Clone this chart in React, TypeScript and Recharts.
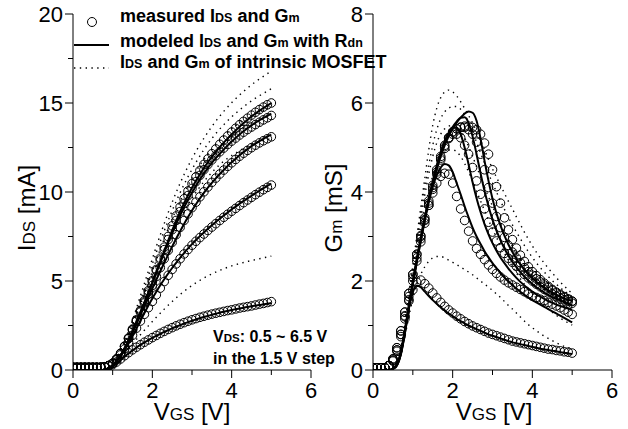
import React from 'react';
import { ComposedChart, Line, Scatter, XAxis, YAxis } from 'recharts';

// Gate voltage grid (V)
const VGS = [
  0, 0.1, 0.2, 0.3, 0.4, 0.5, 0.6, 0.7, 0.8, 0.9,
  1.0, 1.1, 1.2, 1.3, 1.4, 1.5, 1.6, 1.7, 1.8, 1.9,
  2.0, 2.1, 2.2, 2.3, 2.4, 2.5, 2.6, 2.7, 2.8, 2.9,
  3.0, 3.1, 3.2, 3.3, 3.4, 3.5, 3.6, 3.7, 3.8, 3.9,
  4.0, 4.1, 4.2, 4.3, 4.4, 4.5, 4.6, 4.7, 4.8, 4.9,
  5.0,
];

// ---------- IDS [mA] : measured (circles) ----------
const IDS_MEAS_05 = [0.15,0.15,0.15,0.15,0.15,0.15,0.15,0.16,0.18,0.22, 0.3,0.45,0.62,0.8,0.97,1.13,1.28,1.42,1.56,1.69, 1.82,1.94,2.06,2.17,2.28,2.38,2.48,2.57,2.66,2.74, 2.82,2.89,2.96,3.02,3.08,3.14,3.19,3.24,3.29,3.34, 3.38,3.43,3.48,3.52,3.56,3.6,3.65,3.7,3.74,3.79, 3.84];
const IDS_MEAS_20 = [0.15,0.15,0.15,0.15,0.15,0.15,0.15,0.15,0.18,0.25, 0.37,0.57,0.85,1.18,1.55,1.95,2.35,2.75,3.13,3.5, 3.85,4.22,4.6,4.97,5.32,5.65,5.96,6.25,6.52,6.77, 7.01,7.23,7.44,7.64,7.84,8.03,8.22,8.4,8.58,8.75, 8.92,9.08,9.24,9.4,9.55,9.7,9.85,9.99,10.13,10.26, 10.39];
const IDS_MEAS_35 = [0.15,0.15,0.15,0.15,0.15,0.15,0.15,0.15,0.18,0.25, 0.38,0.62,0.93,1.32,1.76,2.24,2.74,3.25,3.77,4.26, 4.75,5.25,5.75,6.25,6.72,7.17,7.6,8.01,8.4,8.77, 9.12,9.43,9.73,10.01,10.28,10.54,10.78,11.01,11.23,11.44, 11.64,11.83,12.01,12.18,12.34,12.49,12.63,12.76,12.88,12.99, 13.1];
const IDS_MEAS_50 = [0.15,0.15,0.15,0.15,0.15,0.15,0.15,0.15,0.18,0.25, 0.38,0.62,0.93,1.33,1.78,2.27,2.78,3.3,3.83,4.38, 4.95,5.58,6.18,6.76,7.33,7.88,8.4,8.9,9.36,9.8, 10.2,10.58,10.93,11.25,11.54,11.8,12.04,12.26,12.47,12.67, 12.86,13.03,13.2,13.36,13.51,13.65,13.79,13.92,14.05,14.17, 14.3];
const IDS_MEAS_65 = [0.15,0.15,0.15,0.15,0.15,0.15,0.15,0.15,0.18,0.25, 0.38,0.62,0.94,1.34,1.8,2.3,2.82,3.35,3.9,4.46, 5.02,5.65,6.28,6.9,7.5,8.1,8.65,9.15,9.62,10.06, 10.47,10.85,11.21,11.55,11.86,12.15,12.42,12.68,12.92,13.15, 13.37,13.58,13.78,13.97,14.15,14.32,14.48,14.63,14.77,14.9, 15.0];

// ---------- IDS [mA] : modeled with Rdn (solid) ----------
const IDS_MOD_05 = [0,0,0,0,0,0,0,0,0.03,0.1, 0.22,0.38,0.56,0.75,0.93,1.1,1.26,1.41,1.55,1.68, 1.8,1.92,2.03,2.14,2.24,2.34,2.43,2.52,2.61,2.69, 2.77,2.84,2.91,2.98,3.04,3.1,3.16,3.22,3.27,3.32, 3.37,3.42,3.46,3.5,3.54,3.58,3.62,3.65,3.69,3.72, 3.76];
const IDS_MOD_20 = [0,0,0,0,0,0,0,0,0.03,0.11, 0.26,0.48,0.77,1.11,1.49,1.9,2.33,2.77,3.2,3.62, 4.02,4.4,4.76,5.1,5.42,5.73,6.02,6.3,6.57,6.83, 7.07,7.3,7.52,7.73,7.93,8.13,8.32,8.5,8.68,8.85, 9.02,9.18,9.34,9.49,9.64,9.79,9.93,10.07,10.21,10.34, 10.47];
const IDS_MOD_35 = [0,0,0,0,0,0,0,0,0.03,0.11, 0.27,0.5,0.81,1.19,1.62,2.09,2.58,3.08,3.58,4.08, 4.58,5.07,5.55,6.02,6.48,6.93,7.37,7.79,8.2,8.59, 8.96,9.31,9.64,9.95,10.24,10.51,10.77,11.01,11.24,11.46, 11.67,11.87,12.06,12.24,12.41,12.57,12.72,12.86,12.99,13.11, 13.22];
const IDS_MOD_50 = [0,0,0,0,0,0,0,0,0.03,0.11, 0.27,0.5,0.82,1.22,1.68,2.18,2.7,3.23,3.77,4.32, 4.88,5.45,6.02,6.59,7.15,7.69,8.2,8.68,9.13,9.56, 9.96,10.34,10.7,11.03,11.34,11.63,11.9,12.15,12.39,12.62, 12.84,13.04,13.23,13.41,13.58,13.74,13.89,14.03,14.16,14.28, 14.4];
const IDS_MOD_65 = [0,0,0,0,0,0,0,0,0.03,0.11, 0.27,0.5,0.82,1.22,1.68,2.18,2.71,3.25,3.8,4.36, 4.93,5.51,6.1,6.69,7.27,7.84,8.38,8.89,9.37,9.82, 10.24,10.63,11.0,11.35,11.67,11.97,12.25,12.52,12.77,13.01, 13.24,13.46,13.67,13.87,14.06,14.24,14.41,14.57,14.72,14.86, 15.0];

// ---------- IDS [mA] : intrinsic MOSFET (dotted) ----------
const IDS_INT_05 = [0,0,0,0,0,0,0,0,0.05,0.15, 0.3,0.5,0.72,0.95,1.2,1.46,1.72,1.98,2.23,2.48, 2.72,2.96,3.19,3.42,3.64,3.85,4.05,4.24,4.42,4.59, 4.75,4.9,5.04,5.17,5.29,5.4,5.5,5.6,5.69,5.77, 5.85,5.92,5.98,6.04,6.1,6.15,6.2,6.25,6.3,6.35, 6.4];
const IDS_INT_20 = [0,0,0,0,0,0,0,0,0.03,0.12, 0.3,0.55,0.88,1.28,1.73,2.23,2.77,3.33,3.9,4.47, 5.03,5.58,6.12,6.64,7.14,7.61,8.06,8.49,8.9,9.28, 9.64,9.98,10.29,10.58,10.85,11.1,11.33,11.54,11.73,11.9, 12.05,12.19,12.32,12.44,12.55,12.65,12.74,12.82,12.89,12.95, 13.0];
const IDS_INT_35 = [0,0,0,0,0,0,0,0,0.04,0.13, 0.32,0.6,0.96,1.4,1.9,2.45,3.04,3.66,4.29,4.92, 5.55,6.17,6.78,7.37,7.94,8.48,9.0,9.49,9.95,10.38, 10.78,11.16,11.51,11.84,12.14,12.4,12.65,12.89,13.12,13.34, 13.55,13.72,13.88,14.03,14.17,14.3,14.41,14.51,14.6,14.68, 14.75];
const IDS_INT_50 = [0,0,0,0,0,0,0,0,0.03,0.13, 0.33,0.62,1.0,1.46,1.98,2.56,3.2,3.88,4.58,5.28, 5.95,6.6,7.22,7.82,8.4,8.95,9.47,9.96,10.42,10.86, 11.27,11.66,12.03,12.38,12.7,13.0,13.28,13.54,13.78,14.01, 14.22,14.42,14.61,14.79,14.96,15.12,15.27,15.41,15.54,15.67, 15.8];
const IDS_INT_65 = [0,0,0,0,0,0,0,0,0.04,0.14, 0.36,0.68,1.1,1.6,2.17,2.8,3.47,4.16,4.86,5.56, 6.25,6.93,7.59,8.23,8.84,9.42,9.97,10.49,10.98,11.44, 11.87,12.28,12.66,13.02,13.36,13.68,13.98,14.26,14.53,14.78, 15.02,15.24,15.45,15.65,15.84,16.02,16.19,16.35,16.5,16.65, 16.8];

// ---------- Gm [mS] : measured (circles) ----------
const GM_MEAS_05 = [0.05,0.05,0.05,0.05,0.1,0.22,0.45,0.8,1.2,1.55, 1.8,1.97,2.02,1.94,1.84,1.73,1.62,1.52,1.43,1.35, 1.28,1.21,1.15,1.09,1.04,0.99,0.95,0.91,0.87,0.83, 0.8,0.77,0.74,0.71,0.68,0.65,0.63,0.61,0.59,0.57, 0.55,0.53,0.51,0.49,0.47,0.46,0.44,0.43,0.41,0.4, 0.38];
const GM_MEAS_20 = [0.05,0.05,0.05,0.05,0.1,0.25,0.5,0.88,1.3,1.72, 2.15,2.6,3.0,3.38,3.7,3.98,4.2,4.35,4.42,4.4, 4.2,3.9,3.62,3.36,3.12,2.9,2.73,2.6,2.48,2.36, 2.26,2.17,2.09,2.02,1.96,1.91,1.86,1.81,1.76,1.71, 1.66,1.63,1.59,1.56,1.52,1.48,1.44,1.4,1.35,1.3, 1.25];
const GM_MEAS_35 = [0.05,0.05,0.05,0.05,0.1,0.25,0.5,0.88,1.3,1.72, 2.15,2.6,3.02,3.42,3.8,4.15,4.5,4.8,5.05,5.22, 5.3,5.3,5.22,5.05,4.85,4.55,4.25,3.95,3.62,3.32, 3.1,2.9,2.75,2.62,2.51,2.42,2.33,2.24,2.15,2.07, 2.0,1.93,1.87,1.81,1.76,1.71,1.66,1.62,1.58,1.54, 1.5];
const GM_MEAS_50 = [0.05,0.05,0.05,0.05,0.1,0.22,0.45,0.8,1.22,1.65, 2.08,2.52,2.95,3.36,3.75,4.1,4.45,4.76,5.02,5.22, 5.35,5.42,5.45,5.45,5.4,5.3,5.12,4.85,4.5,4.1, 3.75,3.45,3.2,2.98,2.8,2.65,2.52,2.41,2.3,2.21, 2.13,2.05,1.98,1.91,1.85,1.79,1.73,1.68,1.63,1.58, 1.54];
const GM_MEAS_65 = [0.05,0.05,0.05,0.05,0.1,0.2,0.42,0.75,1.15,1.58, 2.0,2.45,2.88,3.3,3.7,4.06,4.4,4.72,4.98,5.2, 5.35,5.42,5.46,5.48,5.48,5.45,5.4,5.3,5.1,4.85, 4.5,4.12,3.75,3.42,3.15,2.93,2.74,2.58,2.44,2.32, 2.21,2.12,2.03,1.95,1.88,1.81,1.75,1.7,1.65,1.6, 1.55];

// ---------- Gm [mS] : modeled with Rdn (solid) ----------
const GM_MOD_05 = [0,0,0,0,0,0.03,0.12,0.4,0.88,1.38, 1.75,1.9,1.86,1.76,1.66,1.57,1.49,1.41,1.34,1.27, 1.21,1.15,1.1,1.05,1.0,0.96,0.92,0.88,0.84,0.8, 0.77,0.74,0.71,0.68,0.65,0.62,0.6,0.58,0.56,0.54, 0.52,0.5,0.48,0.46,0.45,0.43,0.42,0.4,0.39,0.37, 0.36];
const GM_MOD_20 = [0,0,0,0,0,0.03,0.12,0.4,0.9,1.46, 2.0,2.5,2.98,3.42,3.8,4.12,4.38,4.55,4.63,4.6, 4.45,4.2,3.95,3.68,3.43,3.2,3.0,2.83,2.67,2.53, 2.4,2.29,2.18,2.08,1.99,1.91,1.83,1.76,1.69,1.63, 1.57,1.52,1.47,1.42,1.37,1.32,1.27,1.22,1.17,1.12, 1.07];
const GM_MOD_35 = [0,0,0,0,0,0.03,0.11,0.38,0.86,1.42, 1.97,2.48,2.96,3.42,3.86,4.25,4.6,4.9,5.15,5.33, 5.45,5.45,5.3,5.0,4.62,4.22,3.86,3.55,3.28,3.05, 2.85,2.68,2.53,2.4,2.28,2.17,2.07,1.98,1.9,1.83, 1.76,1.7,1.65,1.6,1.55,1.51,1.47,1.44,1.41,1.38, 1.36];
const GM_MOD_50 = [0,0,0,0,0,0.02,0.1,0.36,0.83,1.4, 1.94,2.45,2.93,3.38,3.82,4.2,4.55,4.86,5.1,5.3, 5.46,5.58,5.67,5.68,5.55,5.25,4.85,4.42,4.02,3.68, 3.38,3.13,2.92,2.73,2.57,2.43,2.31,2.2,2.1,2.01, 1.93,1.86,1.8,1.74,1.69,1.64,1.6,1.56,1.52,1.49, 1.46];
const GM_MOD_65 = [0,0,0,0,0,0.02,0.1,0.35,0.82,1.38, 1.92,2.42,2.9,3.35,3.78,4.15,4.5,4.8,5.05,5.25, 5.42,5.56,5.67,5.76,5.81,5.78,5.6,5.2,4.7,4.25, 3.85,3.52,3.25,3.02,2.82,2.65,2.5,2.37,2.25,2.15, 2.06,1.98,1.91,1.85,1.79,1.74,1.69,1.65,1.61,1.58, 1.55];

// ---------- Gm [mS] : intrinsic MOSFET (dotted) ----------
const GM_INT_05 = [0,0,0,0,0,0,0.1,0.35,0.75,1.2, 1.6,1.92,2.15,2.32,2.44,2.52,2.55,2.55,2.52,2.47, 2.42,2.37,2.31,2.26,2.2,2.14,2.07,2.0,1.93,1.86, 1.79,1.71,1.63,1.54,1.45,1.37,1.28,1.19,1.1,1.02, 0.95,0.88,0.82,0.76,0.71,0.66,0.61,0.57,0.53,0.5, 0.47];
const GM_INT_20 = [0,0,0,0,0,0.02,0.13,0.45,0.95,1.52, 2.1,2.66,3.18,3.64,4.03,4.36,4.6,4.78,4.89,4.94, 4.95,4.9,4.8,4.64,4.45,4.24,4.02,3.8,3.58,3.37, 3.17,2.98,2.8,2.63,2.47,2.32,2.18,2.05,1.93,1.82, 1.72,1.62,1.53,1.45,1.37,1.3,1.23,1.17,1.11,1.06, 1.01];
const GM_INT_35 = [0,0,0,0,0,0.02,0.14,0.48,1.0,1.6, 2.2,2.8,3.38,3.92,4.4,4.8,5.1,5.3,5.42,5.48, 5.5,5.47,5.38,5.22,5.02,4.8,4.57,4.34,4.11,3.89, 3.68,3.48,3.29,3.11,2.94,2.78,2.63,2.49,2.36,2.24, 2.13,2.03,1.94,1.85,1.77,1.7,1.63,1.57,1.51,1.46, 1.41];
const GM_INT_50 = [0,0,0,0,0,0.02,0.15,0.5,1.03,1.65, 2.28,2.9,3.5,4.08,4.6,5.05,5.4,5.65,5.8,5.88, 5.92,5.92,5.86,5.74,5.56,5.35,5.12,4.88,4.65,4.42, 4.2,4.0,3.8,3.61,3.43,3.26,3.1,2.95,2.8,2.66, 2.53,2.41,2.3,2.2,2.1,2.01,1.93,1.85,1.78,1.71, 1.65];
const GM_INT_65 = [0,0,0,0,0,0.02,0.15,0.5,1.05,1.7, 2.35,3.0,3.65,4.3,4.95,5.5,5.88,6.12,6.25,6.29, 6.25,6.16,6.03,5.88,5.72,5.55,5.36,5.16,4.95,4.73, 4.52,4.33,4.15,3.97,3.79,3.62,3.44,3.27,3.1,2.94, 2.79,2.65,2.52,2.4,2.29,2.18,2.08,1.98,1.89,1.8, 1.72];

// Axis ticks
const X_TICKS = [0, 1, 2, 3, 4, 5, 6];
const IDS_TICKS = [0, 2.5, 5, 7.5, 10, 12.5, 15, 17.5, 20];
const GM_TICKS = [0, 1, 2, 3, 4, 5, 6, 7, 8];

const IDS_MEAS = [IDS_MEAS_05, IDS_MEAS_20, IDS_MEAS_35, IDS_MEAS_50, IDS_MEAS_65];
const IDS_MOD = [IDS_MOD_05, IDS_MOD_20, IDS_MOD_35, IDS_MOD_50, IDS_MOD_65];
const IDS_INT = [IDS_INT_05, IDS_INT_20, IDS_INT_35, IDS_INT_50, IDS_INT_65];
const GM_MEAS = [GM_MEAS_05, GM_MEAS_20, GM_MEAS_35, GM_MEAS_50, GM_MEAS_65];
const GM_MOD = [GM_MOD_05, GM_MOD_20, GM_MOD_35, GM_MOD_50, GM_MOD_65];
const GM_INT = [GM_INT_05, GM_INT_20, GM_INT_35, GM_INT_50, GM_INT_65];

const pts = (ys: number[]) => VGS.map((v, i) => ({ v, y: ys[i] }));

const W = 628;
const H = 429;
const FONT = '"Liberation Sans", Arial, Helvetica, sans-serif';
const DOT = '1.4 4.4';

const Ring = (p: any) => (
  <circle cx={p.cx} cy={p.cy} r={4.3} fill="none" stroke="#000" strokeWidth={1} />
);

const XTick = (p: any) => {
  const { x, y, payload } = p;
  const major = payload.value % 2 === 0;
  return (
    <g>
      <line x1={x} y1={y} x2={x} y2={y + (major ? 8 : 5)} stroke="#000" strokeWidth={1} />
      {major && (
        <text x={x} y={y + 28} textAnchor="middle" fontSize={22} fontFamily={FONT} fill="#000">
          {payload.value}
        </text>
      )}
    </g>
  );
};

const makeYTick = (step: number) => (p: any) => {
  const { x, y, payload } = p;
  const major = Math.abs(payload.value / step - Math.round(payload.value / step)) < 1e-6;
  return (
    <g>
      <line x1={x} y1={y} x2={x - (major ? 8 : 5)} y2={y} stroke="#000" strokeWidth={1} />
      {major && (
        <text x={x - 10} y={y} dy="0.36em" textAnchor="end" fontSize={22} fontFamily={FONT} fill="#000">
          {payload.value}
        </text>
      )}
    </g>
  );
};
const YTickIds = makeYTick(5);
const YTickGm = makeYTick(2);

function Panel(props: {
  margin: any;
  yDomain: [number, number];
  yTicks: number[];
  yTick: any;
  meas: number[][];
  mod: number[][];
  intr: number[][];
}) {
  const { margin, yDomain, yTicks, yTick, meas, mod, intr } = props;
  return (
    <ComposedChart width={W} height={H} margin={margin}>
      <XAxis
        type="number"
        dataKey="v"
        domain={[0, 6]}
        ticks={X_TICKS}
        interval={0}
        height={30}
        tickSize={0}
        tickMargin={0}
        tickLine={false}
        tick={XTick}
        axisLine={{ stroke: '#000', strokeWidth: 1 }}
        allowDataOverflow
      />
      <YAxis
        type="number"
        domain={yDomain}
        ticks={yTicks}
        interval={0}
        width={60}
        tickSize={0}
        tickMargin={0}
        tickLine={false}
        tick={yTick}
        axisLine={{ stroke: '#000', strokeWidth: 1 }}
        allowDataOverflow
      />
      {intr.map((ys, i) => (
        <Line
          key={'i' + i}
          data={pts(ys)}
          dataKey="y"
          type="monotone"
          stroke="#000"
          strokeWidth={1.4}
          strokeDasharray={DOT}
          dot={false}
          activeDot={false}
          isAnimationActive={false}
        />
      ))}
      {mod.map((ys, i) => (
        <Line
          key={'m' + i}
          data={pts(ys)}
          dataKey="y"
          type="monotone"
          stroke="#000"
          strokeWidth={2}
          dot={false}
          activeDot={false}
          isAnimationActive={false}
        />
      ))}
      {meas.map((ys, i) => (
        <Scatter
          key={'s' + i}
          data={pts(ys)}
          dataKey="y"
          shape={Ring}
          isAnimationActive={false}
        />
      ))}
    </ComposedChart>
  );
}

export default function App() {
  const sub = 12.5;
  const axSub = 17;
  return (
    <div style={{ position: 'absolute', left: 0, top: 0, width: W, height: H, background: '#fff', overflow: 'hidden' }}>
      <div style={{ position: 'absolute', left: 0, top: 0 }}>
        <Panel
          margin={{ top: 14, right: 317, bottom: 29, left: 13 }}
          yDomain={[0, 20]}
          yTicks={IDS_TICKS}
          yTick={YTickIds}
          meas={IDS_MEAS}
          mod={IDS_MOD}
          intr={IDS_INT}
        />
      </div>
      <div style={{ position: 'absolute', left: 0, top: 0 }}>
        <Panel
          margin={{ top: 14, right: 16, bottom: 29, left: 313 }}
          yDomain={[0, 8]}
          yTicks={GM_TICKS}
          yTick={YTickGm}
          meas={GM_MEAS}
          mod={GM_MOD}
          intr={GM_INT}
        />
      </div>
      <svg
        width={W}
        height={H}
        style={{ position: 'absolute', left: 0, top: 0, pointerEvents: 'none' }}
        fontFamily={FONT}
      >
        {/* legend */}
        <circle cx={92} cy={22} r={4.5} fill="none" stroke="#000" strokeWidth={1} />
        <text x={120} y={22} fontSize={18} fontWeight="bold" fill="#000">
          measured I<tspan fontSize={sub}>DS</tspan> and G<tspan fontSize={sub}>m</tspan>
        </text>
        <line x1={74} y1={45} x2={109} y2={45} stroke="#000" strokeWidth={2} />
        <text x={120} y={47} fontSize={18} fontWeight="bold" fill="#000">
          modeled I<tspan fontSize={sub}>DS</tspan> and G<tspan fontSize={sub}>m</tspan> with R<tspan fontSize={sub}>dn</tspan>
        </text>
        <line x1={74} y1={68} x2={109} y2={68} stroke="#000" strokeWidth={1.4} strokeDasharray={DOT} />
        <text x={120} y={68} fontSize={18} fontWeight="bold" fill="#000">
          I<tspan fontSize={sub}>DS</tspan> and G<tspan fontSize={sub}>m</tspan> of intrinsic MOSFET
        </text>
        {/* annotation */}
        <text x={213} y={342} fontSize={16} fontWeight="bold" fill="#000">
          V<tspan fontSize={11.5}>DS</tspan>: 0.5 ~ 6.5 V
        </text>
        <text x={213} y={364} fontSize={16} fontWeight="bold" fill="#000">
          in the 1.5 V step
        </text>
        {/* axis titles */}
        <text x={192} y={420} fontSize={24} textAnchor="middle" fill="#000">
          V<tspan fontSize={axSub}>GS</tspan> [V]
        </text>
        <text x={494} y={420} fontSize={24} textAnchor="middle" fill="#000">
          V<tspan fontSize={axSub}>GS</tspan> [V]
        </text>
        <text transform="translate(35,208) rotate(-90)" fontSize={24} textAnchor="middle" fill="#000">
          I<tspan fontSize={axSub}>DS</tspan> [mA]
        </text>
        <text transform="translate(342,208) rotate(-90)" fontSize={24} textAnchor="middle" fill="#000">
          G<tspan fontSize={axSub}>m</tspan> [mS]
        </text>
      </svg>
    </div>
  );
}
